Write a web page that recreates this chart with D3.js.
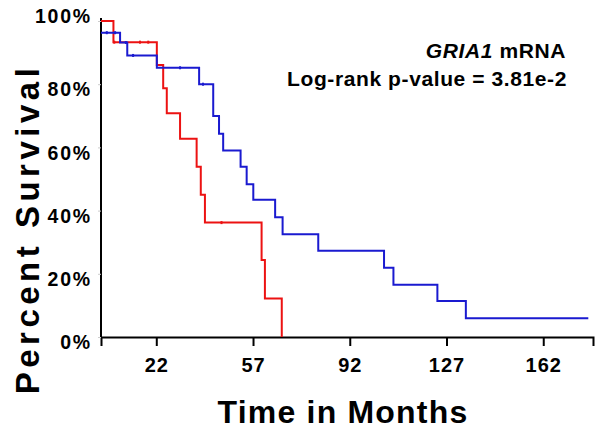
<!DOCTYPE html>
<html><head><meta charset="utf-8">
<script src="https://cdn.jsdelivr.net/npm/d3@7"></script>
<style>
html,body{margin:0;padding:0;background:#fff;}
svg{display:block;font-family:"Liberation Sans",Arial,sans-serif;font-weight:bold;}
</style></head>
<body><svg id="c" width="600" height="434"></svg>
<script>
// Kaplan-Meier step data (months, percent survival)
const redTimes  = [2, 6.5, 22.2, 24.5, 25.8, 30.6, 36.6, 38.1, 39.6, 60.1, 61.3, 67.4];
const redSurv   = [100, 93.3, 86.1, 78.7, 70.8, 62.7, 53.9, 45.0, 36.2, 24.4, 12.2, 0];
const redEnd    = 67.4;
const redCensor = [6.8, 16.1, 19.1, 45.6];

const blueTimes  = [2, 8.9, 11.5, 22.2, 37.5, 42.6, 44.7, 46.2, 52.5, 54.7, 57.1, 65.0, 67.7, 80.6, 104.4, 107.8, 123.7, 134.0];
const blueSurv   = [96.3, 93.2, 89.1, 85.2, 80.0, 69.9, 64.3, 59.0, 53.9, 48.3, 43.4, 37.9, 32.5, 27.3, 21.9, 16.5, 11.4, 5.9];
const blueEnd    = 178.3;
const blueCensor = [4.1, 7.1, 11.0, 13.6, 30.6, 38.9];

const xTicks = [22, 57, 92, 127, 162];
const yTicks = [0, 20, 40, 60, 80, 100];
const xDomain = [2, 180];

const svg = d3.select("#c");
const x = d3.scaleLinear().domain(xDomain).range([101, 593]);
const y = d3.scaleLinear().domain([0, 100]).range([337, 21]);

function series(times, surv, end){
  const pts = times.map((t,i)=>({t, s:surv[i]}));
  if (end > times[times.length-1]) pts.push({t:end, s:surv[surv.length-1]});
  return pts;
}
function survAt(times, surv, t){
  let s = surv[0];
  for (let i=0;i<times.length;i++) if (times[i] <= t) s = surv[i];
  return s;
}
const line = d3.line().x(d=>x(d.t)).y(d=>y(d.s)).curve(d3.curveStepAfter);

// axes
const xAxis = svg.append("g").attr("transform","translate(0,337)")
  .call(d3.axisBottom(x).tickValues(xTicks).tickSize(9).tickSizeOuter(9));
xAxis.select(".domain").attr("stroke","#000").attr("stroke-width",2);
xAxis.selectAll(".tick line").attr("stroke","#000").attr("stroke-width",2);
xAxis.selectAll(".tick text").attr("font-size",20).attr("font-weight","bold")
  .attr("font-family","Liberation Sans, Arial, sans-serif").attr("fill","#000")
  .attr("dy","0.75em").attr("y",20).attr("letter-spacing",1);

const yAxis = svg.append("g").attr("transform","translate(101,0)")
  .call(d3.axisLeft(y).tickValues(yTicks).tickSize(3).tickSizeOuter(0).tickFormat(d=>d+"%"));
yAxis.select(".domain").attr("stroke","#000").attr("stroke-width",2).attr("d","M0,18V337");
yAxis.selectAll(".tick line").attr("stroke","#ccc").attr("stroke-width",1);
yAxis.selectAll(".tick text").attr("font-size",19.5).attr("font-weight","bold")
  .attr("font-family","Liberation Sans, Arial, sans-serif").attr("fill","#000")
  .attr("x",-9).attr("letter-spacing",1.8)
  .attr("dy", d => d===100 ? "0.1em" : "0.6em");

// curves
svg.append("path").datum(series(redTimes, redSurv, redEnd)).attr("d", line)
  .attr("fill","none").attr("stroke","#ec1212").attr("stroke-width",2);
svg.append("path").datum(series(blueTimes, blueSurv, blueEnd)).attr("d", line)
  .attr("fill","none").attr("stroke","#1a1ad0").attr("stroke-width",2);

// censor marks
svg.selectAll(".rc").data(redCensor).join("line")
  .attr("x1",d=>x(d)).attr("x2",d=>x(d))
  .attr("y1",d=>y(survAt(redTimes,redSurv,d))-1.5).attr("y2",d=>y(survAt(redTimes,redSurv,d))+1.5)
  .attr("stroke","#ec1212").attr("stroke-width",2);
svg.selectAll(".bc").data(blueCensor).join("line")
  .attr("x1",d=>x(d)).attr("x2",d=>x(d))
  .attr("y1",d=>y(survAt(blueTimes,blueSurv,d))-1.5).attr("y2",d=>y(survAt(blueTimes,blueSurv,d))+1.5)
  .attr("stroke","#1a1ad0").attr("stroke-width",2);

// annotations
const t1 = svg.append("text").attr("x",566).attr("y",58).attr("text-anchor","end")
  .attr("font-size",21).attr("letter-spacing",0.6);
t1.append("tspan").attr("font-style","italic").text("GRIA1");
t1.append("tspan").text(" mRNA");
svg.append("text").attr("x",567).attr("y",86).attr("text-anchor","end")
  .attr("font-size",21).attr("letter-spacing",0.6).text("Log-rank p-value = 3.81e-2");

// axis titles
svg.append("text").attr("x",343).attr("y",423).attr("text-anchor","middle")
  .attr("font-size",32).attr("letter-spacing",1.2).text("Time in Months");
svg.append("text").attr("transform","translate(39,229) rotate(-90)").attr("text-anchor","middle")
  .attr("font-size",33).attr("letter-spacing",4.5).text("Percent Survival");
</script></body></html>
